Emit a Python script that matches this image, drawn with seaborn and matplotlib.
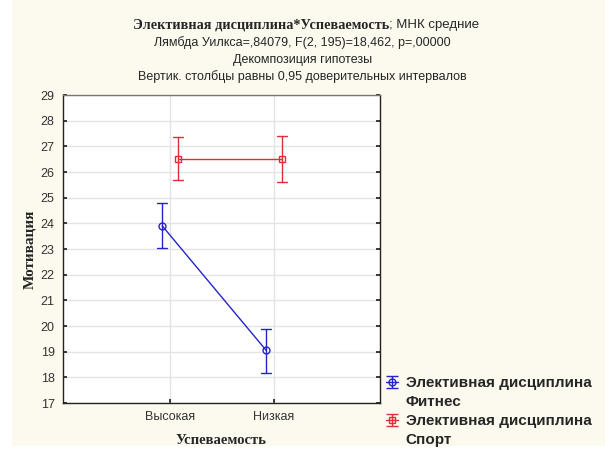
import pandas as pd
import matplotlib
matplotlib.use("Agg")
import matplotlib.pyplot as plt
import seaborn as sns
from matplotlib.lines import Line2D
from matplotlib.path import Path
from matplotlib.patches import Rectangle
from matplotlib.legend_handler import HandlerTuple

# данные
groups = ['Высокая', 'Низкая']
fitness_mean = [23.9, 19.05]
fitness_lo = [23.05, 18.15]
fitness_hi = [24.8, 19.9]
sport_mean = [26.5, 26.5]
sport_lo = [25.7, 25.6]
sport_hi = [27.35, 27.4]
legend_labels = ['Элективная дисциплина', 'Фитнес', 'Элективная дисциплина', 'Спорт']

sns.set_theme(style="whitegrid")
plt.rcParams['font.family'] = ['Liberation Sans', 'DejaVu Sans']

rows = []
for name, m, lo, hi in [('Фитнес', fitness_mean, fitness_lo, fitness_hi),
                        ('Спорт', sport_mean, sport_lo, sport_hi)]:
    for i, g in enumerate(groups):
        for v in (lo[i], m[i], hi[i]):
            rows.append({'Успеваемость': g, 'Мотивация': v, 'Дисциплина': name})
df = pd.DataFrame(rows)

blue = '#2424cc'
red = '#dc2f38'

fig = plt.figure(figsize=(6.05, 4.5), dpi=100, facecolor='white')
fig.patches.append(Rectangle((12 / 605, 4 / 450), 1, 1, transform=fig.transFigure,
                             facecolor='#fcf9ee', edgecolor='none', zorder=-10))
ax = fig.add_axes([63 / 605, 47 / 450, 317 / 605, 308 / 450])
ax.set_facecolor('white')

sns.pointplot(data=df, x='Успеваемость', y='Мотивация', hue='Дисциплина',
              estimator='median', errorbar=lambda v: (v.min(), v.max()),
              dodge=0.15, markers=['o', 's'], linestyles='-',
              palette=[blue, red], capsize=0.1, err_kws={'linewidth': 1},
              linewidth=1, markersize=5, legend=False, ax=ax)

for line in ax.lines:
    line.set_markerfacecolor('none')
    line.set_markeredgewidth(1)

ax.set_xlim(-1.03, 2.02)
ax.set_ylim(17, 29)
ax.set_yticks(range(17, 30))
ax.grid(True, color='#e4e4e4', linewidth=1)
for s in ax.spines.values():
    s.set_color('#222222')
    s.set_linewidth(1)
ax.spines['top'].set_color('#777777')
ax.tick_params(axis='both', labelsize=9, labelcolor='#333333', direction='in',
               length=3, color='#222222', pad=4)
ax.tick_params(axis='y', right=True, left=True, pad=6)
ax.tick_params(axis='x', bottom=True, pad=6)

ax.set_xlabel('Успеваемость', fontfamily='Liberation Serif', fontweight='bold',
              fontsize=10.5, labelpad=8)
ax.set_ylabel('Мотивация', fontfamily='Liberation Serif', fontweight='bold',
              fontsize=11, labelpad=3)

# заголовок
fig.text(389 / 605, 1 - 25 / 450, 'Элективная дисциплина*Успеваемость',
         ha='right', va='center', fontfamily='Liberation Serif', fontweight='bold',
         fontsize=10.3)
fig.text(389 / 605, 1 - 25 / 450, '; МНК средние', ha='left', va='center', fontsize=9.5)
fig.text(0.5, 1 - 43 / 450, 'Лямбда Уилкса=,84079, F(2, 195)=18,462, p=,00000',
         ha='center', va='center', fontsize=9)
fig.text(0.5, 1 - 60 / 450, 'Декомпозиция гипотезы', ha='center', va='center', fontsize=9)
fig.text(0.5, 1 - 77 / 450, 'Вертик. столбцы равны 0,95 доверительных интервалов',
         ha='center', va='center', fontsize=9)

# значок легенды: линия с маркером и «усами»
err_glyph = Path([(-1, 1), (1, 1), (-1, -1), (1, -1), (0, 1), (0, -1)],
                 [Path.MOVETO, Path.LINETO, Path.MOVETO, Path.LINETO, Path.MOVETO, Path.LINETO])
handles = []
for c, mk in [(blue, 'o'), (red, 's')]:
    h1 = Line2D([], [], color=c, marker=mk, markerfacecolor='none', markersize=5, linewidth=1)
    h2 = Line2D([], [], color=c, marker=err_glyph, markersize=9, markeredgewidth=1,
                linestyle='none')
    handles.append((h1, h2))
    handles.append(Line2D([], [], linestyle='none'))
leg = fig.legend(handles, legend_labels, loc='upper left',
                 bbox_to_anchor=(386 / 605, 1 - 376 / 450),
                 frameon=False, handlelength=0.8, handletextpad=0.5, labelspacing=0.33,
                 borderpad=0, borderaxespad=0,
                 prop={'weight': 'bold', 'size': 11},
                 handler_map={tuple: HandlerTuple(ndivide=1)})

fig.savefig('out.png', dpi=100, facecolor=fig.get_facecolor())
